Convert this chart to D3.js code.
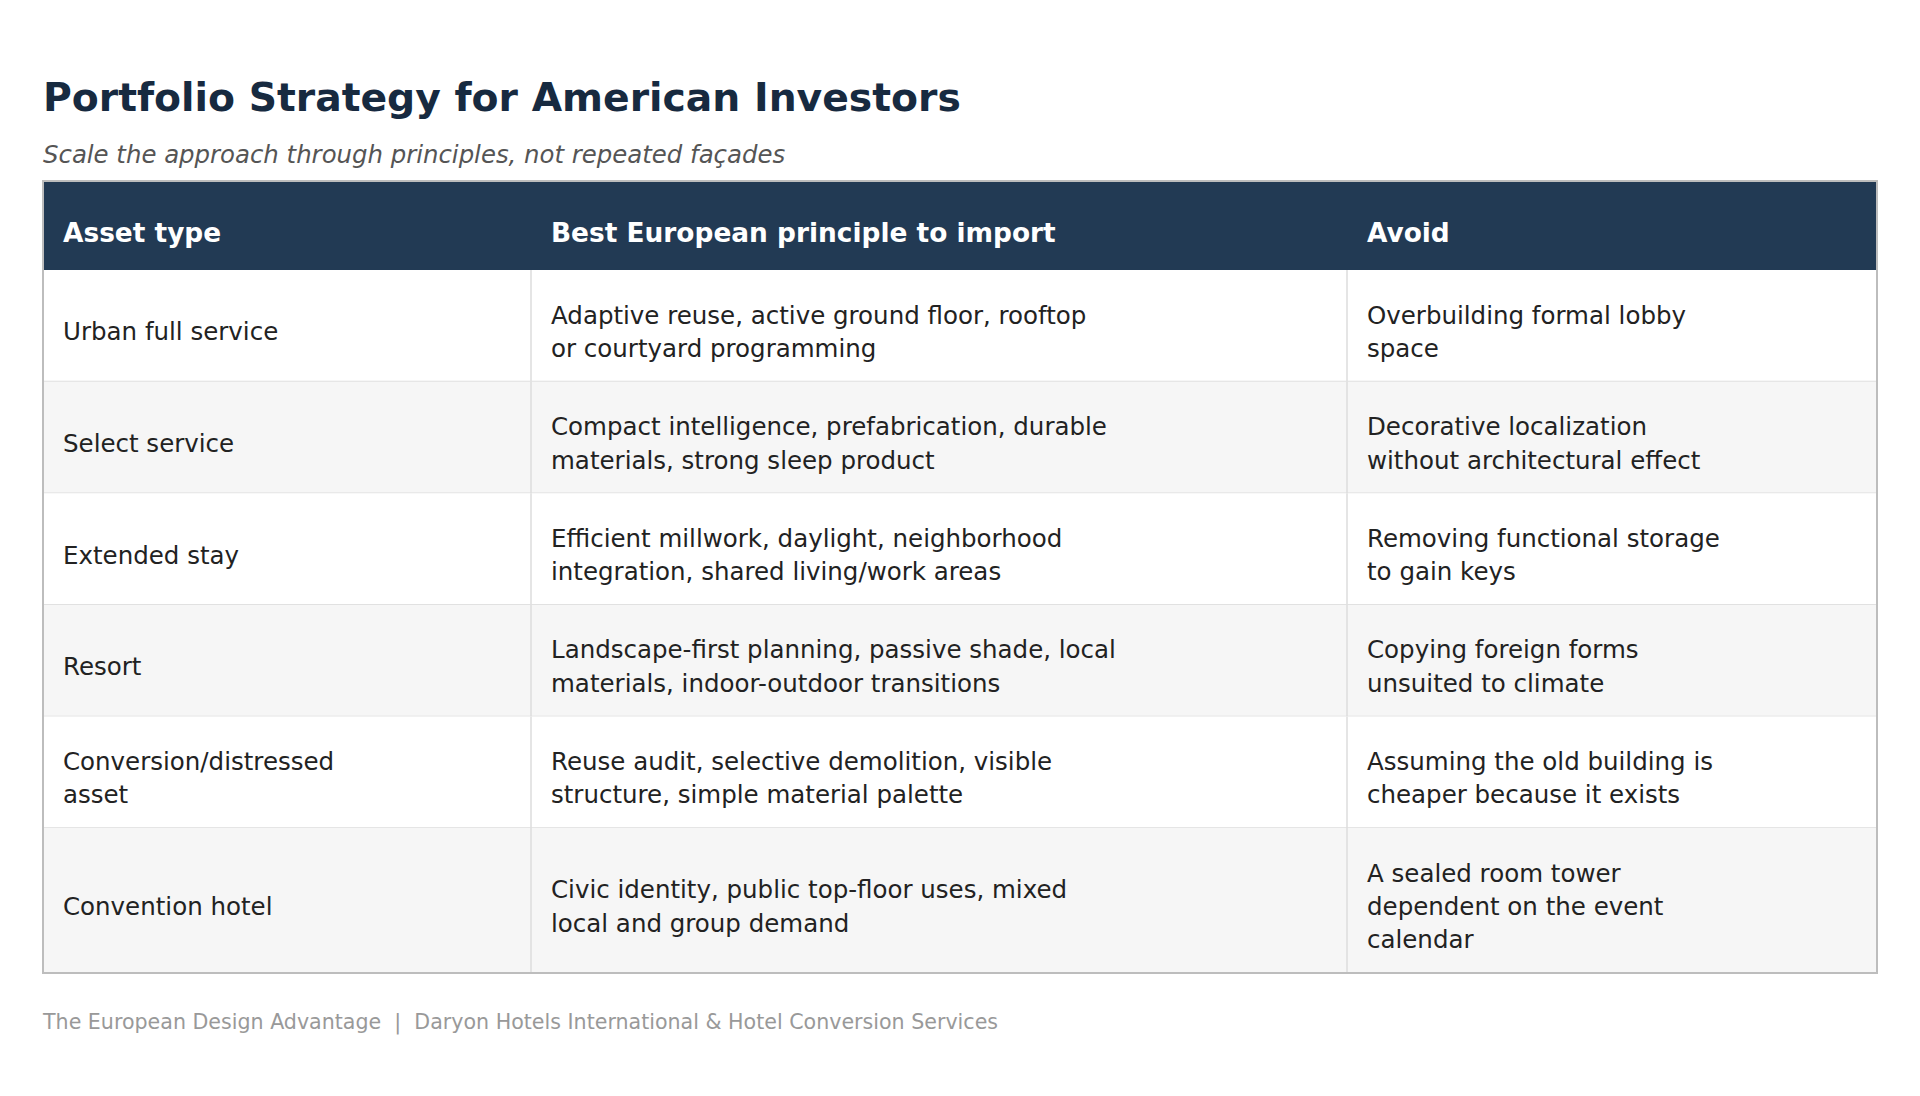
<!DOCTYPE html>
<html lang="en">
<head>
<meta charset="UTF-8">
<title>Portfolio Strategy for American Investors</title>
<script src="https://d3js.org/d3.v7.min.js"></script>
<style>
  body { margin: 0; background: #fff; }
  svg { display: block; font-family: "DejaVu Sans", sans-serif; }
</style>
</head>
<body>
<svg id="chart" width="1920" height="1096"></svg>
<script>
// table content
const columns = ["Asset type", "Best European principle to import", "Avoid"];
const assetTypes = ["Urban full service", "Select service", "Extended stay", "Resort",
  "Conversion/distressed asset", "Convention hotel"];
const principles = [
  "Adaptive reuse, active ground floor, rooftop or courtyard programming",
  "Compact intelligence, prefabrication, durable materials, strong sleep product",
  "Efficient millwork, daylight, neighborhood integration, shared living/work areas",
  "Landscape-first planning, passive shade, local materials, indoor-outdoor transitions",
  "Reuse audit, selective demolition, visible structure, simple material palette",
  "Civic identity, public top-floor uses, mixed local and group demand"
];
const avoid = [
  "Overbuilding formal lobby space",
  "Decorative localization without architectural effect",
  "Removing functional storage to gain keys",
  "Copying foreign forms unsuited to climate",
  "Assuming the old building is cheaper because it exists",
  "A sealed room tower dependent on the event calendar"
];
const wrapChars = [22, 46, 28];

const title = "Portfolio Strategy for American Investors";
const subtitle = "Scale the approach through principles, not repeated façades";
const footer = "The European Design Advantage  |  Daryon Hotels International & Hotel Conversion Services";

// layout
const tLeft = 43, tRight = 1877, tTop = 181, headH = 89;
const colFrac = [0, 488, 1304, 1834];
const lineH = 33.4, padV = 22.4, padX = 20;

function wrap(s, n) {
  const words = s.split(" ");
  const lines = [];
  let cur = "";
  words.forEach(w => {
    if (!cur) cur = w;
    else if ((cur + " " + w).length <= n) cur += " " + w;
    else { lines.push(cur); cur = w; }
  });
  if (cur) lines.push(cur);
  return lines;
}

const rows = assetTypes.map((a, i) => {
  const cells = [a, principles[i], avoid[i]].map((t, j) => wrap(t, wrapChars[j]));
  const n = d3.max(cells, c => c.length);
  return { cells, h: n * lineH + 2 * padV };
});

let acc = tTop + headH;
rows.forEach(r => { r.y = acc; acc += r.h; });
const tBottom = acc;

const x = d3.scaleLinear().domain([0, colFrac[3]]).range([tLeft, tRight]);
const colX = colFrac.map(v => x(v));

const svg = d3.select("#chart");

svg.append("text").attr("x", 43).attr("y", 111)
  .attr("font-size", 39.3).attr("font-weight", "bold").attr("fill", "#172a40")
  .text(title);
svg.append("text").attr("x", 43).attr("y", 163)
  .attr("font-size", 24.4).attr("font-style", "italic").attr("fill", "#555")
  .text(subtitle);

// header
svg.append("rect").attr("x", tLeft).attr("y", tTop).attr("width", tRight - tLeft).attr("height", headH)
  .attr("fill", "#223a54");
svg.selectAll("text.head").data(columns).join("text").attr("class", "head")
  .attr("x", (d, i) => colX[i] + padX)
  .attr("y", tTop + headH / 2 + 16)
  .attr("font-size", 26.4).attr("font-weight", "bold").attr("fill", "#fff")
  .text(d => d);

// rows
const g = svg.selectAll("g.row").data(rows).join("g").attr("class", "row");
g.append("rect").attr("x", tLeft).attr("y", d => d.y).attr("width", tRight - tLeft).attr("height", d => d.h)
  .attr("fill", (d, i) => i % 2 ? "#f6f6f6" : "#fff");
g.append("line").attr("x1", tLeft).attr("x2", tRight)
  .attr("y1", d => d.y + d.h).attr("y2", d => d.y + d.h)
  .attr("stroke", "#dcdcdc").attr("stroke-width", 1.5);
[1, 2].forEach(c => {
  g.append("line").attr("x1", colX[c]).attr("x2", colX[c])
    .attr("y1", d => d.y).attr("y2", d => d.y + d.h)
    .attr("stroke", "#dcdcdc").attr("stroke-width", 1.5);
});
g.each(function(r) {
  const row = d3.select(this);
  r.cells.forEach((lines, j) => {
    const cy = r.y + r.h / 2;
    row.append("text")
      .attr("font-size", 24.5).attr("fill", "#222")
      .selectAll("tspan").data(lines).join("tspan")
      .attr("x", colX[j] + padX)
      .attr("y", (d, k) => cy + (k - (lines.length - 1) / 2) * lineH + 14.5)
      .text(d => d);
  });
});

// outer border
svg.append("rect").attr("x", tLeft).attr("y", tTop).attr("width", tRight - tLeft).attr("height", tBottom - tTop)
  .attr("fill", "none").attr("stroke", "#bdbdbd").attr("stroke-width", 2);

svg.append("text").attr("x", 43).attr("y", 1029)
  .attr("font-size", 20.6).attr("fill", "#999")
  .style("white-space", "pre")
  .text(footer);
</script>
</body>
</html>
